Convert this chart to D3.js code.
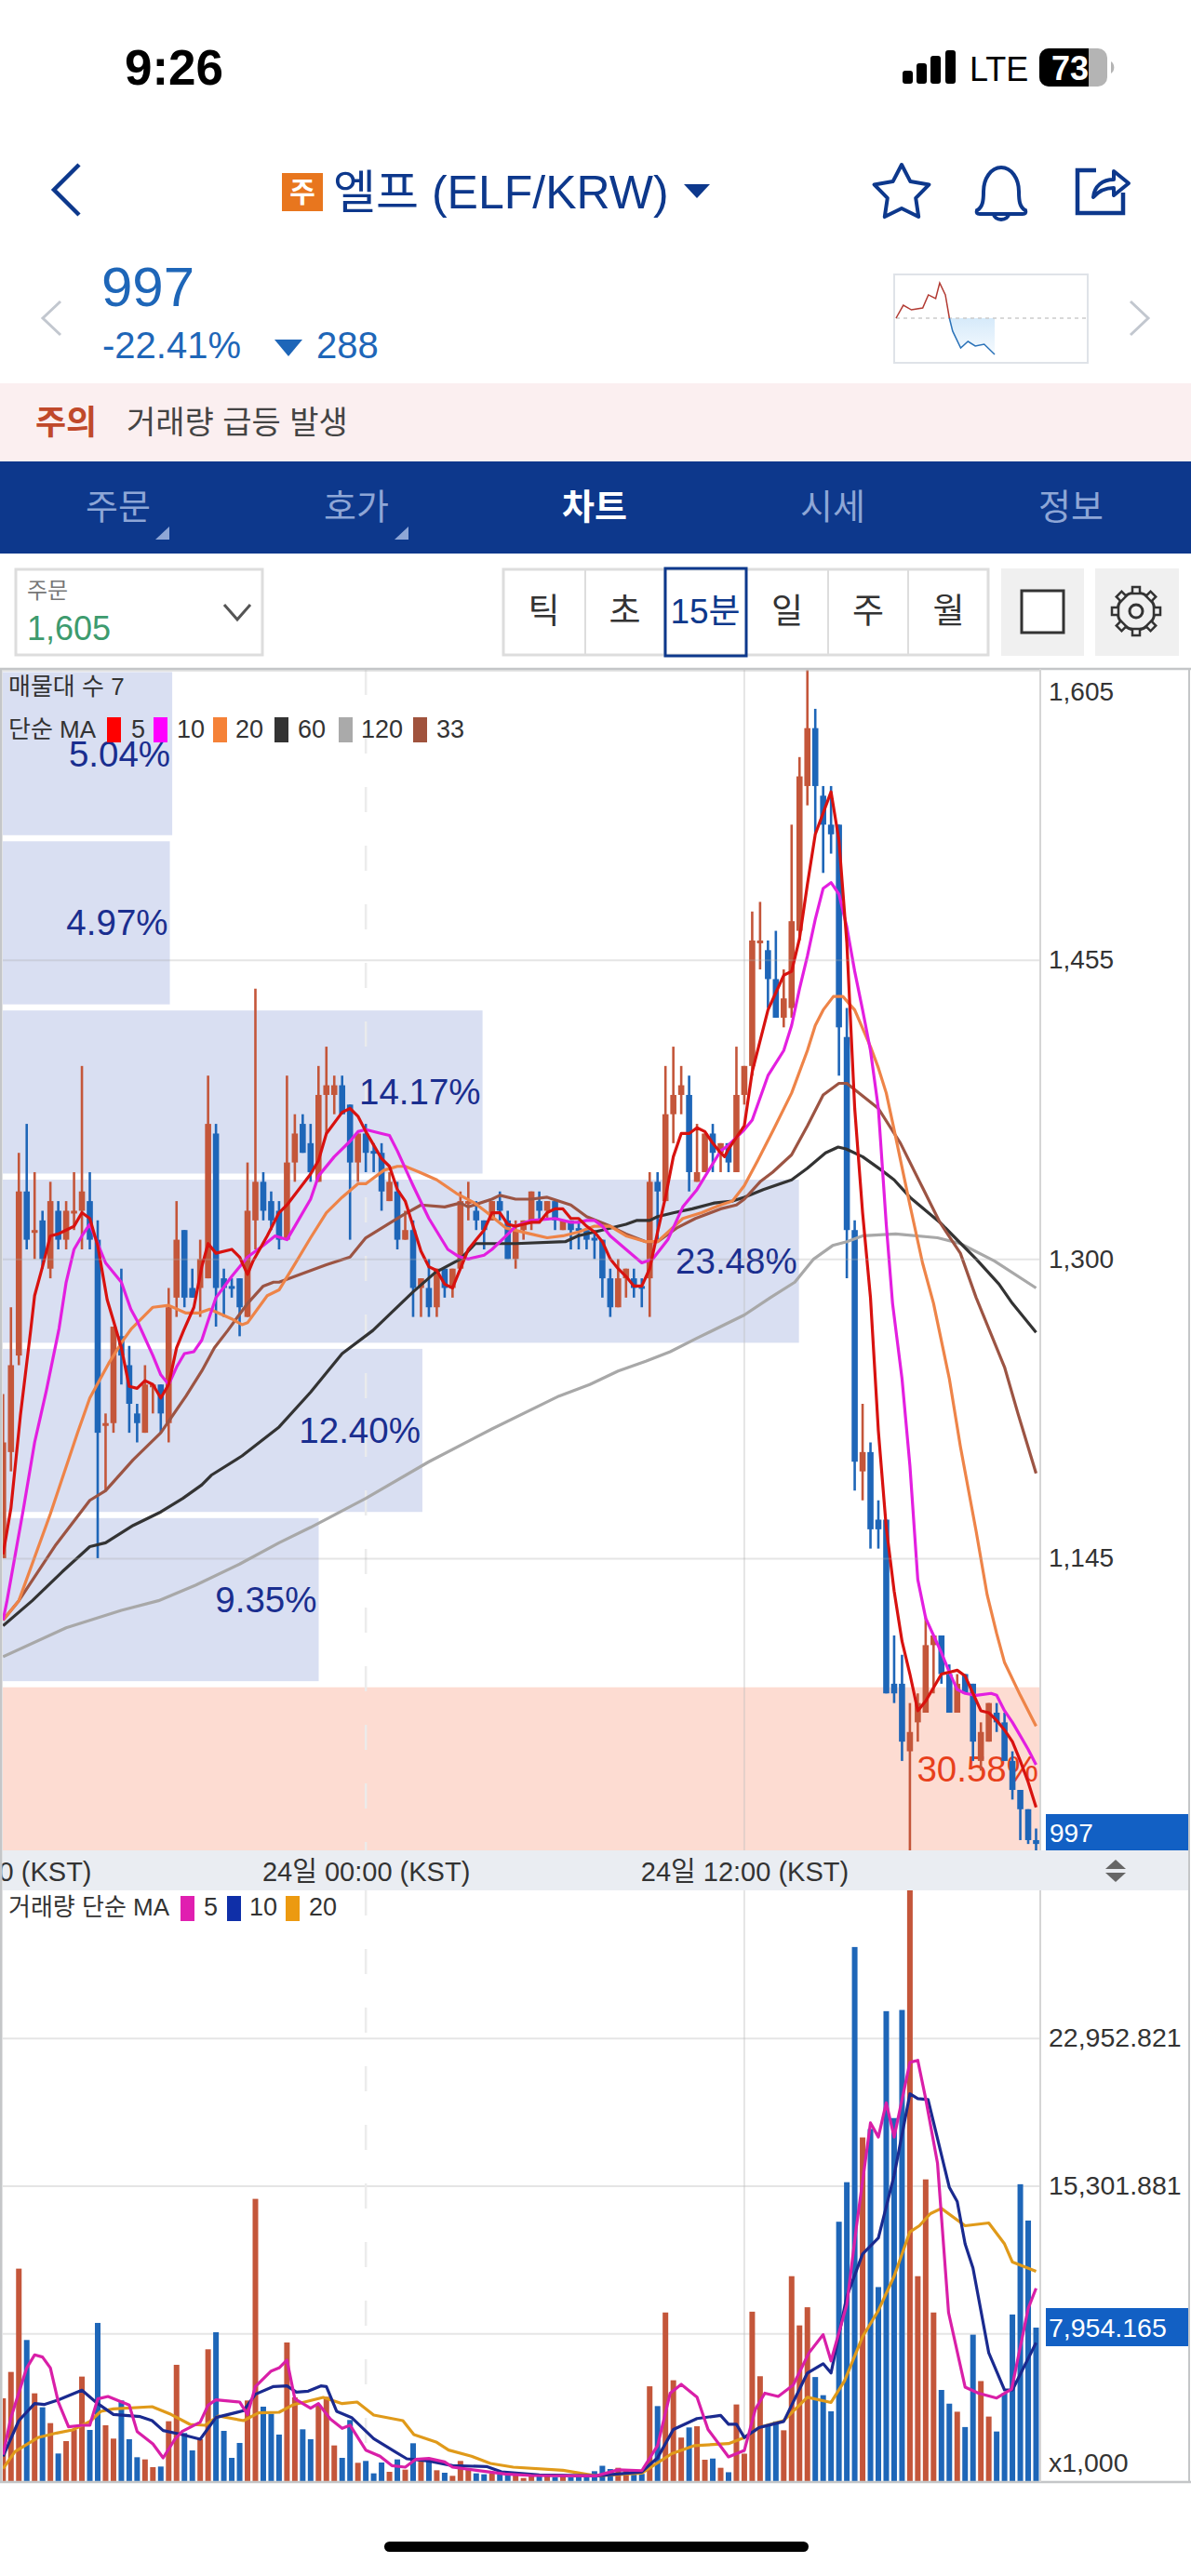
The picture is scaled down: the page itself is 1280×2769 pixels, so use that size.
<!DOCTYPE html>
<html>
<head>
<meta charset="utf-8">
<style>
html, body { margin: 0; padding: 0; background: #fff; }
text { font-family: "Liberation Sans", "Noto Sans CJK KR", sans-serif; }
</style>
<script src="https://cdn.jsdelivr.net/npm/d3@7"></script>
</head>
<body>
<script>
'use strict'

// 15 minute candles
var opens = [1145, 1200, 1250, 1335, 1315, 1320, 1295, 1325, 1310, 1325,
  1325, 1330, 1310, 1215, 1215, 1260, 1245, 1220, 1210, 1235,
  1235, 1215, 1280, 1315, 1285, 1285, 1290, 1365, 1290, 1286,
  1290, 1270, 1320, 1340, 1330, 1325, 1310, 1350, 1370, 1360,
  1340, 1385, 1385, 1390, 1380, 1350, 1365, 1356, 1355, 1330,
  1335, 1310, 1315, 1285, 1285, 1275, 1295, 1285, 1295, 1330,
  1325, 1320, 1320, 1330, 1320, 1300, 1315, 1320, 1330, 1325,
  1330, 1315, 1320, 1316, 1315, 1311, 1310, 1290, 1275, 1290,
  1290, 1286, 1290, 1340, 1330, 1375, 1385, 1385, 1340, 1345,
  1365, 1355, 1360, 1345, 1385, 1400, 1465, 1460, 1445, 1425,
  1430, 1470, 1545, 1575, 1540, 1525, 1525, 1415, 1315, 1190,
  1200, 1165, 1165, 1080, 1080, 1045, 1060, 1065, 1100, 1105,
  1085, 1065, 1085, 1080, 1040, 1050, 1065, 1060, 1040, 1025,
  1015, 999]
var highs = [1230, 1275, 1355, 1370, 1345, 1325, 1340, 1330, 1330, 1345,
  1400, 1345, 1320, 1220, 1265, 1295, 1255, 1225, 1245, 1235,
  1235, 1285, 1330, 1315, 1295, 1310, 1395, 1370, 1295, 1290,
  1290, 1350, 1440, 1345, 1335, 1330, 1395, 1375, 1375, 1370,
  1400, 1410, 1395, 1395, 1380, 1365, 1370, 1360, 1360, 1345,
  1340, 1325, 1320, 1290, 1300, 1295, 1295, 1295, 1335, 1340,
  1330, 1320, 1330, 1335, 1325, 1320, 1320, 1335, 1335, 1330,
  1330, 1320, 1320, 1320, 1315, 1315, 1310, 1295, 1300, 1295,
  1295, 1290, 1345, 1345, 1400, 1410, 1400, 1395, 1370, 1365,
  1370, 1360, 1360, 1410, 1400, 1480, 1485, 1465, 1470, 1450,
  1525, 1560, 1605, 1585, 1545, 1545, 1525, 1430, 1320, 1225,
  1205, 1175, 1165, 1105, 1095, 1070, 1075, 1115, 1105, 1105,
  1090, 1085, 1085, 1080, 1060, 1070, 1070, 1065, 1045, 1025,
  1015, 1005]
var lows = [1145, 1190, 1245, 1305, 1300, 1295, 1290, 1305, 1305, 1315,
  1305, 1305, 1145, 1180, 1210, 1235, 1210, 1205, 1210, 1220,
  1210, 1205, 1270, 1275, 1280, 1270, 1290, 1265, 1270, 1280,
  1260, 1270, 1305, 1320, 1315, 1305, 1310, 1340, 1355, 1340,
  1340, 1365, 1375, 1375, 1310, 1340, 1345, 1345, 1325, 1330,
  1305, 1310, 1270, 1270, 1270, 1270, 1280, 1280, 1295, 1320,
  1315, 1305, 1320, 1320, 1300, 1295, 1310, 1315, 1320, 1320,
  1315, 1315, 1305, 1305, 1305, 1300, 1280, 1270, 1275, 1280,
  1280, 1275, 1270, 1310, 1330, 1360, 1375, 1335, 1340, 1345,
  1345, 1345, 1345, 1345, 1380, 1395, 1450, 1430, 1425, 1420,
  1425, 1465, 1535, 1520, 1500, 1510, 1395, 1290, 1180, 1175,
  1150, 1150, 1075, 1070, 1040, 993, 1050, 1065, 1075, 1080,
  1065, 1065, 1075, 1040, 1035, 1050, 1055, 1040, 1020, 999,
  997, 993]
var closes = [1205, 1245, 1335, 1310, 1315, 1300, 1330, 1310, 1325, 1325,
  1335, 1310, 1210, 1215, 1265, 1250, 1225, 1215, 1235, 1235,
  1220, 1275, 1310, 1280, 1280, 1300, 1370, 1285, 1285, 1285,
  1275, 1325, 1340, 1325, 1320, 1310, 1350, 1365, 1355, 1345,
  1385, 1390, 1390, 1375, 1350, 1365, 1355, 1355, 1335, 1340,
  1310, 1315, 1285, 1290, 1275, 1295, 1285, 1295, 1330, 1330,
  1320, 1315, 1330, 1325, 1300, 1315, 1320, 1335, 1325, 1330,
  1320, 1320, 1315, 1315, 1310, 1310, 1290, 1275, 1290, 1295,
  1285, 1285, 1340, 1335, 1375, 1385, 1390, 1345, 1345, 1365,
  1355, 1360, 1350, 1385, 1400, 1465, 1465, 1445, 1425, 1435,
  1475, 1550, 1575, 1545, 1525, 1520, 1420, 1315, 1195, 1200,
  1160, 1160, 1075, 1075, 1050, 1055, 1070, 1100, 1105, 1085,
  1065, 1080, 1075, 1050, 1055, 1070, 1060, 1040, 1025, 1015,
  999, 997]

// volume per candle, x1,000
var volumes = [4290, 5657, 11008, 7312, 4548, 3825, 3005, 1430, 2073, 2652,
  5416, 2652, 8196, 2893, 2202, 4178, 2170, 1237, 1125, 723,
  755, 3102, 6026, 2491, 1591, 2170, 6830, 7714, 2603, 1205,
  1977, 4178, 14624, 3857, 3487, 2411, 7183, 4339, 2684, 2170,
  3937, 4371, 1848, 1205, 3166, 948, 1045, 402, 964, 482,
  1125, 595, 1961, 1045, 1045, 562, 434, 273, 1045, 643,
  402, 354, 402, 354, 354, 321, 161, 321, 241, 241,
  209, 241, 193, 241, 321, 514, 794, 627, 690, 543,
  418, 376, 4912, 3887, 8736, 5225, 2257, 2780, 2842, 1108,
  1170, 690, 460, 3971, 1421, 8778, 5434, 2884, 3093, 2633,
  10617, 8067, 9008, 5392, 4452, 3616, 13439, 15487, 27672, 17807,
  18246, 10053, 24349, 18810, 24411, 31500, 10617, 15633, 8736, 4723,
  4013, 3595, 2801, 7587, 5183, 3344, 2571, 4556, 8632, 15382,
  13501, 7954.165]

// moving averages as [candle index, price] read at the visible bends
var ma5 = [[0, 1147], [1, 1171], [2.2, 1219], [3.5, 1263], [4, 1281], [5, 1296], [6, 1312], [7, 1313], [8, 1315], [9, 1317],
  [10, 1324], [11, 1321], [12, 1307], [13.2, 1279], [14, 1268], [15, 1254], [16, 1234], [17, 1233], [18, 1237], [19, 1235],
  [20, 1228], [21, 1235], [22, 1254], [22.9, 1263], [24.2, 1275], [25.2, 1296], [26, 1308], [27, 1303], [29, 1305], [30, 1301],
  [31, 1292], [31.7, 1299], [33.5, 1312], [35, 1324], [36, 1328], [39, 1344], [40, 1351], [41, 1365], [43, 1376], [44, 1378],
  [45, 1374], [46, 1366], [47, 1359], [48, 1352], [49, 1348], [50, 1336], [51, 1330], [52, 1317], [53, 1304], [54, 1296],
  [55, 1294], [56, 1287], [57, 1285], [58, 1295], [59, 1305], [60, 1310], [61, 1315], [62, 1324], [63, 1324], [64, 1318],
  [65, 1317], [66, 1318], [67, 1319], [68, 1319], [69, 1324], [70, 1326], [71, 1326], [72, 1321], [73, 1321], [74, 1317],
  [75, 1314], [76, 1309], [77, 1300], [78, 1295], [79, 1291], [80, 1286], [81, 1286], [82, 1295], [83, 1314], [84, 1332],
  [85, 1353], [86, 1365], [87, 1365], [88, 1368], [89, 1366], [90, 1360], [91, 1355], [91.5, 1353], [92, 1357], [93, 1363],
  [94, 1369], [95, 1397], [97, 1429], [98, 1438], [99, 1447], [100, 1449], [101, 1466], [102, 1494], [103, 1520], [105, 1542],
  [106, 1517], [107, 1464], [108, 1378], [109, 1324], [110, 1280], [111, 1211], [112, 1161], [113, 1128], [114, 1102], [115, 1085],
  [116, 1066], [117, 1071], [118, 1078], [119, 1085], [120, 1086], [121, 1087], [122, 1084], [123, 1075], [124, 1066], [125, 1065],
  [126, 1061], [127, 1056], [128, 1050], [129, 1040], [130, 1029], [131, 1016]]
var ma10 = [[0, 1113], [0.5, 1123], [2.6, 1171], [4, 1205], [5.5, 1232], [7.1, 1264], [8, 1288], [9, 1305], [10, 1312], [11, 1318], [12, 1308],
  [13, 1298], [15, 1288], [16.2, 1274], [17, 1268], [19, 1250], [20, 1240], [21, 1235], [22, 1244], [23, 1251], [24.2, 1252],
  [25.2, 1258], [26, 1268], [27, 1280], [29, 1291], [31, 1301], [33, 1307], [34.5, 1312], [36, 1310], [37, 1317], [39, 1331],
  [40, 1343], [42, 1353], [44, 1361], [45, 1366], [46, 1367], [48, 1365], [49, 1364], [50, 1356], [52, 1338], [54, 1321],
  [56.4, 1305], [57.5, 1302], [58, 1301], [59, 1300], [61, 1302], [62, 1305], [63.8, 1312], [65, 1317], [67, 1320], [70, 1321],
  [72, 1319], [73, 1319], [74, 1320], [75, 1320], [76, 1317], [77, 1312], [79, 1305], [81, 1298], [82.4, 1300], [84.3, 1310],
  [86.2, 1327], [88, 1336], [91, 1356], [92, 1359], [94, 1367], [95, 1372], [97, 1395], [99, 1408], [100, 1421], [101, 1440],
  [102, 1457], [103, 1476], [104, 1492], [105, 1495], [106, 1489], [107, 1472], [108, 1449], [109, 1429], [110, 1408], [111, 1378],
  [112, 1318], [112.8, 1277], [114, 1238], [115, 1193], [116, 1134], [117, 1114], [118, 1105], [119, 1096], [120, 1086], [121, 1077],
  [122, 1075], [123.4, 1074], [125.3, 1075], [126, 1074], [127, 1066], [128, 1060], [129, 1053], [130, 1046], [131, 1038]]
var ma20 = [[0, 1113], [2, 1123], [6, 1168], [9.45, 1210], [11, 1228], [13.4, 1246], [15.4, 1259], [16.3, 1264], [19, 1275], [21, 1276], [23.2, 1272],
  [24.8, 1272], [26.2, 1274], [29, 1269], [30.3, 1266], [31, 1267], [33.5, 1281], [35, 1284], [36.8, 1296], [39, 1311], [41, 1324],
  [43, 1332], [45, 1339], [46, 1339], [48.3, 1346], [50, 1348], [51, 1348], [52.8, 1345], [55, 1341], [57.5, 1334], [59.8, 1329],
  [61.4, 1324], [63.8, 1316], [66.9, 1313], [69, 1311], [71, 1312], [73, 1314], [75, 1317], [77, 1317], [79, 1312], [81.5, 1309],
  [83, 1309], [84.6, 1315], [86.2, 1321], [88.6, 1324], [91, 1328], [92.5, 1330], [94, 1338], [95.7, 1351], [97.7, 1367], [100, 1386],
  [102, 1408], [103, 1421], [104, 1429], [105.3, 1436], [106.5, 1436], [108, 1429], [110, 1410], [111, 1399], [112, 1386], [113, 1367],
  [115, 1328], [116.6, 1298], [118, 1277], [120, 1238], [121.4, 1203], [123.4, 1159], [124.8, 1126], [126, 1106], [127, 1091], [129, 1074],
  [131, 1058]]
var ma60 = [[0, 1110], [3.7, 1123], [7.5, 1138], [11, 1151], [13, 1153], [16.5, 1162], [20, 1169], [22.8, 1176], [25.2, 1183], [26.4, 1188],
  [30.3, 1198], [35, 1213], [39, 1231], [43, 1251], [46.9, 1263], [49.2, 1272], [52, 1283], [54.8, 1293], [58, 1300], [59.9, 1308],
  [61, 1308], [65, 1308], [71.3, 1309], [72.9, 1312], [76, 1315], [79, 1318], [80.4, 1320], [82, 1320], [83, 1322], [85.1, 1324],
  [87.4, 1326], [90.2, 1329], [92.5, 1330], [94, 1332], [96.4, 1336], [100, 1341], [102, 1347], [104.3, 1355], [105.9, 1358], [106.9, 1357],
  [109, 1353], [111.4, 1346], [113, 1341], [115, 1332], [118.8, 1319], [123.4, 1300], [126.3, 1287], [128, 1277], [131, 1262]]
var ma120 = [[0, 1094], [8, 1109], [15, 1118], [19.7, 1123], [24.4, 1131], [30, 1142], [35, 1153], [39, 1161], [46, 1176], [54, 1195],
  [62, 1212], [70.5, 1229], [74.4, 1235], [78, 1242], [81.5, 1247], [84.6, 1252], [88, 1259], [94, 1271], [97.3, 1280], [100.4, 1288],
  [102.8, 1300], [105.2, 1307], [107, 1309], [109, 1312], [113.2, 1313], [118.5, 1311], [121.4, 1308], [125.7, 1299], [131, 1285]]
var ma33 = [[0, 1113], [2, 1123], [6.7, 1152], [11, 1175], [13, 1180], [16.5, 1196], [20, 1210], [23.2, 1229], [25.2, 1242], [26.8, 1254], [28.5, 1263],
  [31, 1277], [33, 1286], [34.3, 1288], [35, 1288], [41, 1297], [44, 1301], [46, 1311], [49.2, 1319], [50.8, 1323], [53, 1328],
  [56, 1327], [58, 1329], [59, 1327], [62, 1331], [63, 1333], [65, 1331], [67, 1331], [69, 1332], [72, 1328], [74, 1322],
  [77, 1317], [79, 1313], [81.5, 1309], [83, 1309], [85.4, 1316], [87.8, 1321], [91, 1326], [93, 1328], [94, 1331], [96, 1340],
  [97.6, 1345], [100, 1354], [102, 1369], [104, 1385], [106, 1391], [107, 1391], [111, 1378], [113.8, 1360], [116.6, 1337], [118.8, 1319],
  [121.4, 1303], [123.4, 1280], [127, 1244], [128.7, 1220], [131, 1189]]

// volume moving averages, same form
var vma5 = [[0, 1366], [1, 3294], [3, 5865], [4, 6540], [5, 6428], [6, 5865], [7, 4098], [8.3, 2812], [10, 2893], [11, 2893],
  [12, 4258], [13.3, 4387], [16, 3937], [17, 2571], [19, 1928], [20.3, 1205], [21.8, 2170], [22.7, 2571], [25, 3053], [26, 3937],
  [27, 4210], [30, 4098], [31, 3455], [32, 4901], [34, 5705], [35, 5865], [36, 6267], [37, 4258], [39, 3776], [40, 4017],
  [41.5, 3214], [43, 2732], [44, 2893], [46, 1607], [47.8, 1286], [49.3, 803], [51, 723], [52.3, 1125], [54, 1173], [56, 996],
  [57, 723], [60, 562], [63.7, 370], [67, 289], [75.2, 272], [78, 585], [81, 543], [83, 1839], [84.6, 4556], [86, 5016],
  [88, 4347], [89.4, 2675], [92, 1254], [94, 1588], [95.4, 3720], [96.6, 4556], [98.3, 4389], [100.2, 4974], [102.2, 6646], [104, 7587],
  [105, 6228], [107, 9154], [108.2, 13125], [110, 18559], [111, 17828], [112, 19604], [113, 17828], [115, 21694], [116, 21799], [117, 19813],
  [118.5, 16469], [119.9, 8736], [122, 4870], [123.7, 4556], [126, 4305], [127.9, 4765], [130, 8945], [131, 9990]]
var vma10 = [[0, 1286], [2, 3134], [4, 4017], [5.2, 3969], [7, 4210], [10, 4708], [12, 4017], [14, 3455], [17.4, 3342], [18.9, 3134],
  [20.3, 2619], [22.7, 2411], [25, 2170], [27, 3294], [30.5, 3648], [32, 4500], [34.3, 4901], [36, 4933], [37.2, 4612], [38.7, 4660],
  [40.3, 4933], [41, 4901], [42.3, 3616], [44.2, 3294], [47, 2202], [49.7, 1527], [51.2, 1157], [54, 1045], [57, 803], [61.3, 755],
  [63.2, 482], [68, 321], [75.2, 272], [81, 480], [83, 1212], [85, 2675], [88, 3240], [91, 3407], [92, 2947], [93, 2947],
  [94, 2257], [95.9, 2780], [99, 3093], [102, 5601], [104, 6082], [105, 5601], [107, 9572], [109, 11767], [111, 12603], [113, 15842],
  [115, 20064], [116, 19813], [117.3, 19771], [120, 15215], [121, 14484], [122, 12289], [123, 11035], [125, 6646], [127, 4723], [128, 4723],
  [131, 7169]]
var vma20 = [[0, 643], [1.5, 1527], [4.4, 2250], [6.8, 2491], [8.8, 2652], [11, 3085], [12.4, 3616], [14, 3744], [18.9, 3857], [21.3, 3455],
  [23.7, 2941], [25.6, 2893], [27.3, 3375], [30.5, 3134], [32.4, 3535], [35, 3568], [36.7, 3937], [40.6, 4339], [43, 4017], [44.9, 4098],
  [47, 3423], [50.7, 3134], [52.1, 2411], [55, 2009], [56.5, 1607], [59.4, 1286], [61.8, 916], [64.7, 723], [71, 562], [75.2, 272],
  [81, 418], [84.8, 1421], [87.7, 1839], [92, 1944], [94, 2257], [95.9, 2780], [99, 3135], [102, 4347], [105, 4075], [106.7, 5183],
  [109, 7482], [111, 8841], [113, 10617], [115, 12916], [116.2, 13230], [117.6, 13857], [119, 14128], [122, 13230], [125, 13376], [127, 12289],
  [128, 11349], [131, 10868]]

var priceTicks = [1605, 1455, 1300, 1145]
var volumeTicks = [7650.94, 15301.881, 22952.821]
var timeTickIndex = [-2, 46, 94]
var timeTickLabels = ['23일 12:00 (KST)', '24일 00:00 (KST)', '24일 12:00 (KST)']

// price profile, top band first
var profilePct = [5.04, 4.97, 14.17, 23.48, 12.40, 9.35, 30.58]

// mini chart at the top: hours from open, price
var sparkHours = [0, 0.9, 1.9, 3.3, 4, 4.9, 5.4, 6.1, 6.6, 7, 8, 8.9, 9.8, 10.9, 12.2]
var sparkPrices = [1285, 1388, 1351, 1366, 1470, 1440, 1565, 1470, 1285, 1182, 1049, 1100, 1064, 1078, 997]

var tabs = ['주문', '호가', '차트', '시세', '정보']
var periods = ['틱', '초', '15분', '일', '주', '월']

var navy = '#0d388c'
var upColor = '#c4563a'
var downColor = '#1e66b8'
var textColor = '#333'

var svg = d3.select('body').append('svg')
  .attr('width', 1280)
  .attr('height', 2769)
  .style('display', 'block')

function addText (parent, x, y, str, size, color, opts) {
  opts = opts || {}
  return parent.append('text')
    .attr('x', x)
    .attr('y', y)
    .attr('dy', '.35em')
    .attr('font-size', size)
    .attr('fill', color)
    .attr('font-weight', opts.weight || 400)
    .attr('text-anchor', opts.anchor || 'start')
    .text(str)
}

function drawStatusBar () {
  var g = svg.append('g')
  addText(g, 187, 72, '9:26', 53, '#000', { anchor: 'middle', weight: 700 })
  var bars = [[970, 76], [985, 68], [1000, 60], [1016, 54]]
  bars.forEach(function (b) {
    g.append('rect').attr('x', b[0]).attr('y', b[1]).attr('width', 11).attr('height', 90 - b[1]).attr('rx', 3).attr('fill', '#000')
  })
  addText(g, 1042, 74, 'LTE', 36, '#000')
  g.append('rect').attr('x', 1117).attr('y', 52).attr('width', 73).attr('height', 41).attr('rx', 10).attr('fill', '#b4b4b4')
  g.append('path').attr('d', 'M1117,62a10,10 0 0 1 10,-10H1170V93H1127a10,10 0 0 1 -10,-10Z').attr('fill', '#000')
  g.append('path').attr('d', 'M1194,66a8,8 0 0 1 0,13Z').attr('fill', '#b4b4b4')
  addText(g, 1150, 73, '73', 36, '#fff', { anchor: 'middle', weight: 700 })
}

function drawHeader () {
  var g = svg.append('g')
  g.append('path').attr('d', 'M85,177L58,204L85,231').attr('fill', 'none').attr('stroke', navy).attr('stroke-width', 4.5)
  g.append('rect').attr('x', 303).attr('y', 186).attr('width', 44).attr('height', 41).attr('fill', '#e8761e')
  addText(g, 325, 206, '주', 30, '#fff', { anchor: 'middle', weight: 700 })
  addText(g, 358, 206, '엘프 (ELF/KRW)', 50, navy)
  g.append('path').attr('d', 'M735,198H763L749,213Z').attr('fill', navy)

  // star
  var star = d3.lineRadial().curve(d3.curveLinearClosed)
  var starPts = d3.range(10).map(function (i) {
    return [i * Math.PI / 5, i % 2 === 0 ? 31 : 16]
  })
  g.append('path').attr('transform', 'translate(969,208)').attr('d', star(starPts))
    .attr('fill', 'none').attr('stroke', navy).attr('stroke-width', 4).attr('stroke-linejoin', 'round')
  // bell
  g.append('path')
    .attr('d', 'M1050,226c6,-3 7,-10 7,-20c0,-14 8,-26 19,-26s19,12 19,26c0,10 1,17 7,20c1,3 0,4 -3,4H1053c-3,0 -4,-1 -3,-4Z')
    .attr('fill', 'none').attr('stroke', navy).attr('stroke-width', 4)
  g.append('path').attr('d', 'M1068,230a8,6 0 0 0 16,0').attr('fill', 'none').attr('stroke', navy).attr('stroke-width', 4)
  // share
  g.append('path').attr('d', 'M1178,183H1158V229H1207V207').attr('fill', 'none').attr('stroke', navy).attr('stroke-width', 4.5)
  g.append('path').attr('d', 'M1175,212c1,-12 10,-19 22,-19V184L1213,197L1197,210V202c-9,0 -16,3 -22,10Z')
    .attr('fill', 'none').attr('stroke', navy).attr('stroke-width', 4).attr('stroke-linejoin', 'round')

  // last price
  g.append('path').attr('d', 'M65,324L46,342L65,360').attr('fill', 'none').attr('stroke', '#c2c7cf').attr('stroke-width', 3)
  g.append('path').attr('d', 'M1215,324L1234,342L1215,360').attr('fill', 'none').attr('stroke', '#c2c7cf').attr('stroke-width', 3)
  addText(g, 109, 308, '997', 60, downColor)
  addText(g, 110, 371, '-22.41%', 40, downColor)
  g.append('path').attr('d', 'M295,365H325L310,383Z').attr('fill', downColor)
  addText(g, 340, 371, '288', 40, downColor)

  drawSpark(g)

  // caution strip
  g.append('rect').attr('x', 0).attr('y', 412).attr('width', 1280).attr('height', 84).attr('fill', '#fbeff0')
  addText(g, 38, 454, '주의', 36, '#c0492b', { weight: 700 })
  addText(g, 136, 454, '거래량 급등 발생', 34, '#444')

  // tabs
  g.append('rect').attr('x', 0).attr('y', 496).attr('width', 1280).attr('height', 99).attr('fill', navy)
  var tabX = d3.scalePoint().domain(tabs).range([127, 1151])
  tabs.forEach(function (t) {
    var on = t === '차트'
    addText(g, tabX(t), 545, t, 38, on ? '#fff' : '#8ea6d6', { anchor: 'middle', weight: on ? 700 : 400 })
  })
  g.append('path').attr('d', 'M182,566V580H167Z').attr('fill', '#8ea6d6')
  g.append('path').attr('d', 'M439,566V580H424Z').attr('fill', '#8ea6d6')

  // order selector
  g.append('rect').attr('x', 17).attr('y', 612).attr('width', 265).attr('height', 92).attr('fill', '#fff').attr('stroke', '#ddd').attr('stroke-width', 3)
  addText(g, 29, 635, '주문', 24, '#777')
  addText(g, 29, 675, '1,605', 36, '#3d9b6e')
  g.append('path').attr('d', 'M241,650L255,666L269,650').attr('fill', 'none').attr('stroke', '#555').attr('stroke-width', 3)

  // period buttons
  var edges = [540, 629, 714, 802, 890, 976, 1063]
  g.append('rect').attr('x', 541).attr('y', 612).attr('width', 521).attr('height', 92).attr('fill', '#fff').attr('stroke', '#ddd').attr('stroke-width', 3)
  periods.forEach(function (p, i) {
    if (i > 0) {
      g.append('line').attr('x1', edges[i]).attr('x2', edges[i]).attr('y1', 612).attr('y2', 704).attr('stroke', '#ddd').attr('stroke-width', 2)
    }
    addText(g, (edges[i] + edges[i + 1]) / 2, 657, p, 37, i === 2 ? navy : textColor, { anchor: 'middle' })
  })
  g.append('rect').attr('x', 715).attr('y', 611).attr('width', 87).attr('height', 94).attr('fill', 'none').attr('stroke', navy).attr('stroke-width', 3)

  g.append('rect').attr('x', 1076).attr('y', 611).attr('width', 89).attr('height', 94).attr('fill', '#f0f0f0')
  g.append('rect').attr('x', 1098).attr('y', 635).attr('width', 45).attr('height', 45).attr('fill', '#fff').attr('stroke', '#333').attr('stroke-width', 3)
  g.append('rect').attr('x', 1177).attr('y', 611).attr('width', 90).attr('height', 94).attr('fill', '#f0f0f0')
  var gear = g.append('g').attr('transform', 'translate(1221,657)')
  gear.append('circle').attr('r', 20).attr('fill', 'none').attr('stroke', '#333').attr('stroke-width', 3)
  gear.append('circle').attr('r', 7).attr('fill', 'none').attr('stroke', '#333').attr('stroke-width', 3)
  d3.range(8).forEach(function (i) {
    gear.append('rect').attr('x', -4).attr('y', -26).attr('width', 8).attr('height', 7)
      .attr('fill', '#f0f0f0').attr('stroke', '#333').attr('stroke-width', 2.5)
      .attr('transform', 'rotate(' + (i * 45) + ')')
  })
}

function drawSpark (g) {
  g.append('rect').attr('x', 961).attr('y', 295).attr('width', 208).attr('height', 95)
    .attr('fill', '#fff').attr('stroke', '#dfe3e8').attr('stroke-width', 2)
  var sx = d3.scaleLinear().domain([0, 12.2]).range([963, 1069])
  var sy = d3.scaleLinear().domain([997, 1285]).range([381, 342])
  var pts = sparkHours.map(function (h, i) { return [h, sparkPrices[i]] })
  var line = d3.line().x(function (d) { return sx(d[0]) }).y(function (d) { return sy(d[1]) })
  var area = d3.area().x(function (d) { return sx(d[0]) }).y0(sy(1285)).y1(function (d) { return sy(d[1]) })
  var defs = g.append('defs').append('linearGradient').attr('id', 'sparkFade').attr('x1', 0).attr('x2', 0).attr('y1', 0).attr('y2', 1)
  defs.append('stop').attr('offset', 0).attr('stop-color', '#d6eafa')
  defs.append('stop').attr('offset', 1).attr('stop-color', '#f5fafe')
  g.append('path').attr('d', area(pts.slice(8))).attr('fill', 'url(#sparkFade)')
  g.append('line').attr('x1', 963).attr('x2', 1167).attr('y1', sy(1285)).attr('y2', sy(1285))
    .attr('stroke', '#ccc').attr('stroke-dasharray', '4 4').attr('stroke-width', 1.5)
  g.append('path').attr('d', line(pts.slice(0, 9))).attr('fill', 'none').attr('stroke', '#b23a32').attr('stroke-width', 1.5)
  g.append('path').attr('d', line(pts.slice(8))).attr('fill', 'none').attr('stroke', '#2a72b8').attr('stroke-width', 1.5)
}

// chart geometry
var plotLeft = 3
var plotRight = 1118
var priceTop = 720
var priceBottom = 1989
var volumeTop = 2032
var volumeBottom = 2667

var x = d3.scaleLinear().domain([0, 131]).range([3.3, 1113.5])
var yPrice = d3.scaleLinear().domain([1145, 1455]).range([1675, 1031.7])
var yVolume = d3.scaleLinear().domain([0, 22952.821]).range([volumeBottom, 2190.8])
var xProfile = d3.scaleLinear().domain([0, 30.58]).range([1, plotRight])
var yProfile = d3.scaleBand().domain(d3.range(profilePct.length)).range([yPrice(1605) + 2, priceBottom]).paddingInner(0.036)

function addClip (id, top, bottom) {
  svg.append('clipPath').attr('id', id).append('rect')
    .attr('x', plotLeft).attr('y', top).attr('width', plotRight - plotLeft).attr('height', bottom - top)
}

function maLine (scaleY) {
  return d3.line()
    .x(function (d) { return x(d[0]) })
    .y(function (d) { return scaleY(d[1]) })
}

function drawProfile (g) {
  g.selectAll('rect.band').data(profilePct).enter().append('rect')
    .attr('class', 'band')
    .attr('x', plotLeft)
    .attr('y', function (d, i) { return yProfile(i) })
    .attr('width', function (d) { return xProfile(d) - plotLeft })
    .attr('height', yProfile.bandwidth())
    .attr('fill', function (d) { return d === d3.max(profilePct) ? '#fddcd2' : '#d9dff2' })
}

function drawProfileLabels (g) {
  g.selectAll('text.pct').data(profilePct).enter().append('text')
    .attr('class', 'pct')
    .attr('x', function (d) { return xProfile(d) - 2 })
    .attr('y', function (d, i) { return yProfile(i) + yProfile.bandwidth() / 2 })
    .attr('dy', '.35em')
    .attr('text-anchor', 'end')
    .attr('font-size', 38.5)
    .attr('fill', function (d) { return d === d3.max(profilePct) ? '#e8401c' : '#1a2e8f' })
    .text(function (d) { return d3.format('.2f')(d) + '%' })
}

function drawVerticalGuides (g, top, bottom) {
  g.append('line').attr('x1', x(94)).attr('x2', x(94)).attr('y1', top).attr('y2', bottom)
    .attr('stroke', 'rgba(190,190,190,.4)').attr('stroke-width', 2)
  g.append('line').attr('x1', x(46)).attr('x2', x(46)).attr('y1', top).attr('y2', bottom)
    .attr('stroke', 'rgba(235,235,235,.95)').attr('stroke-width', 2.5).attr('stroke-dasharray', '27 36')
}

function drawCandles (g) {
  var idx = d3.range(opens.length)
  var color = function (i) { return closes[i] >= opens[i] ? upColor : downColor }
  g.selectAll('line.wick').data(idx).enter().append('line')
    .attr('class', 'wick')
    .attr('x1', function (i) { return x(i) })
    .attr('x2', function (i) { return x(i) })
    .attr('y1', function (i) { return yPrice(highs[i]) })
    .attr('y2', function (i) { return yPrice(lows[i]) })
    .attr('stroke', color)
    .attr('stroke-width', 2.6)
  g.selectAll('rect.body').data(idx).enter().append('rect')
    .attr('class', 'body')
    .attr('x', function (i) { return x(i) - 3.3 })
    .attr('y', function (i) { return yPrice(Math.max(opens[i], closes[i])) })
    .attr('width', 6.6)
    .attr('height', function (i) {
      return Math.max(3, Math.abs(yPrice(opens[i]) - yPrice(closes[i])))
    })
    .attr('fill', color)
}

function drawPricePanel () {
  addClip('priceClip', priceTop, priceBottom + 1)
  var g = svg.append('g')
  var plot = g.append('g').attr('clip-path', 'url(#priceClip)')
  drawProfile(plot)

  var axis = d3.axisRight(yPrice)
    .tickValues(priceTicks)
    .tickFormat(d3.format(','))
    .tickSize(-(plotRight - plotLeft))
    .tickPadding(9)
  var ag = g.append('g').attr('transform', 'translate(' + plotRight + ',0)').call(axis)
  ag.select('.domain').remove()
  ag.selectAll('line').attr('stroke', 'rgba(170,170,170,.3)').attr('stroke-width', 2)
  ag.selectAll('text').attr('font-size', 28).attr('fill', textColor).attr('font-family', null)
  // top label sits under the edge of the panel
  ag.selectAll('.tick').filter(function (d) { return d === 1605 }).select('text').attr('dy', 32)

  drawVerticalGuides(plot, priceTop, priceBottom)
  drawProfileLabels(plot)
  drawCandles(plot)

  var lines = [[ma120, '#a8a8a8'], [ma60, '#333'], [ma33, '#9c5443'], [ma20, '#ee8448'], [ma10, '#e31fe0'], [ma5, '#d8120f']]
  var line = maLine(yPrice)
  lines.forEach(function (m) {
    plot.append('path').attr('d', line(m[0])).attr('fill', 'none').attr('stroke', m[1]).attr('stroke-width', 3.2).attr('stroke-linejoin', 'round')
  })

  // legends
  addText(g, 9, 738, '매물대 수 7', 26, textColor)
  addText(g, 9, 784, '단순 MA', 26, textColor)
  var keys = [[115, '#ff0000', '5', 141], [165, '#ff00ff', '10', 190], [229, '#f58238', '20', 253], [295, '#333', '60', 320], [364, '#aaa', '120', 388], [444, '#a0533d', '33', 469]]
  keys.forEach(function (k) {
    g.append('rect').attr('x', k[0]).attr('y', 771).attr('width', 15).attr('height', 27).attr('fill', k[1])
    addText(g, k[3], 784, k[2], 27, textColor)
  })

  // current price tag
  g.append('rect').attr('x', 1124).attr('y', 1950).attr('width', 153).attr('height', 40).attr('fill', '#1260c4')
  addText(g, 1128, 1970, '997', 28, '#fff')
}

function drawTimeBand () {
  var g = svg.append('g')
  g.append('rect').attr('x', plotLeft).attr('y', priceBottom).attr('width', 1277 - plotLeft).attr('height', volumeTop - priceBottom).attr('fill', '#eaedf2')
  var axis = d3.axisBottom(x)
    .tickValues(timeTickIndex)
    .tickFormat(function (d, i) { return timeTickLabels[i] })
    .tickSize(0)
    .tickPadding(12)
  var ag = g.append('g').attr('transform', 'translate(0,' + priceBottom + ')').call(axis)
  ag.select('.domain').remove()
  ag.selectAll('text').attr('font-size', 29).attr('fill', textColor).attr('font-family', null)
  g.append('path').attr('d', 'M1188,2009L1199,1999L1210,2009Z').attr('fill', '#666')
  g.append('path').attr('d', 'M1188,2013L1199,2023L1210,2013Z').attr('fill', '#666')
}

function drawVolumePanel () {
  addClip('volumeClip', volumeTop, volumeBottom)
  var g = svg.append('g')
  var axis = d3.axisRight(yVolume)
    .tickValues(volumeTicks)
    .tickFormat(d3.format(',.3f'))
    .tickSize(-(plotRight - plotLeft))
    .tickPadding(9)
  var ag = g.append('g').attr('transform', 'translate(' + plotRight + ',0)').call(axis)
  ag.select('.domain').remove()
  ag.selectAll('line').attr('stroke', 'rgba(170,170,170,.3)').attr('stroke-width', 2)
  ag.selectAll('text').attr('font-size', 28.5).attr('fill', textColor).attr('font-family', null)

  var plot = g.append('g').attr('clip-path', 'url(#volumeClip)')
  drawVerticalGuides(plot, volumeTop, volumeBottom)
  plot.selectAll('rect.vol').data(volumes).enter().append('rect')
    .attr('class', 'vol')
    .attr('x', function (d, i) { return x(i) - 3 })
    .attr('y', function (d) { return yVolume(d) })
    .attr('width', 6)
    .attr('height', function (d) { return volumeBottom - yVolume(d) })
    .attr('fill', function (d, i) { return closes[i] >= opens[i] ? upColor : downColor })

  var line = maLine(yVolume)
  var lines = [[vma20, '#e09a1a'], [vma10, '#1a2a8f'], [vma5, '#d91fa8']]
  lines.forEach(function (m) {
    plot.append('path').attr('d', line(m[0])).attr('fill', 'none').attr('stroke', m[1]).attr('stroke-width', 3.2).attr('stroke-linejoin', 'round')
  })

  addText(g, 1127, 2647, 'x1,000', 28.5, textColor)
  g.append('rect').attr('x', 1124).attr('y', 2481).attr('width', 153).attr('height', 41).attr('fill', '#1260c4')
  addText(g, 1127, 2502, d3.format(',.3f')(volumes[volumes.length - 1]), 28.5, '#fff')

  addText(g, 9, 2050, '거래량 단순 MA', 26, textColor)
  var keys = [[194, '#e01fb0', '5', 219], [244, '#0f2fa8', '10', 268], [307, '#ec9a10', '20', 332]]
  keys.forEach(function (k) {
    g.append('rect').attr('x', k[0]).attr('y', 2038).attr('width', 15).attr('height', 27).attr('fill', k[1])
    addText(g, k[3], 2050, k[2], 27, textColor)
  })
}

function drawFrame () {
  var g = svg.append('g').attr('fill', 'none').attr('stroke', '#c4c6c8')
  g.append('line').attr('x1', 1).attr('x2', 1).attr('y1', 719).attr('y2', 2668).attr('stroke-width', 3)
  g.append('line').attr('x1', 0).attr('x2', 1280).attr('y1', 719).attr('y2', 719).attr('stroke-width', 2.5)
  g.append('line').attr('x1', 1278).attr('x2', 1278).attr('y1', 719).attr('y2', 2668).attr('stroke-width', 2)
  g.append('line').attr('x1', 0).attr('x2', 1280).attr('y1', 2668).attr('y2', 2668).attr('stroke-width', 2.5)
  g.append('line').attr('x1', plotRight).attr('x2', plotRight).attr('y1', 719).attr('y2', priceBottom).attr('stroke', '#d5d5d5').attr('stroke-width', 2)
  g.append('line').attr('x1', plotRight).attr('x2', plotRight).attr('y1', volumeTop).attr('y2', 2668).attr('stroke', '#d5d5d5').attr('stroke-width', 2)
  // home indicator
  svg.append('rect').attr('x', 413).attr('y', 2732).attr('width', 456).attr('height', 11).attr('rx', 5.5).attr('fill', '#000')
}

drawStatusBar()
drawHeader()
drawPricePanel()
drawTimeBand()
drawVolumePanel()
drawFrame()
</script>
</body>
</html>
